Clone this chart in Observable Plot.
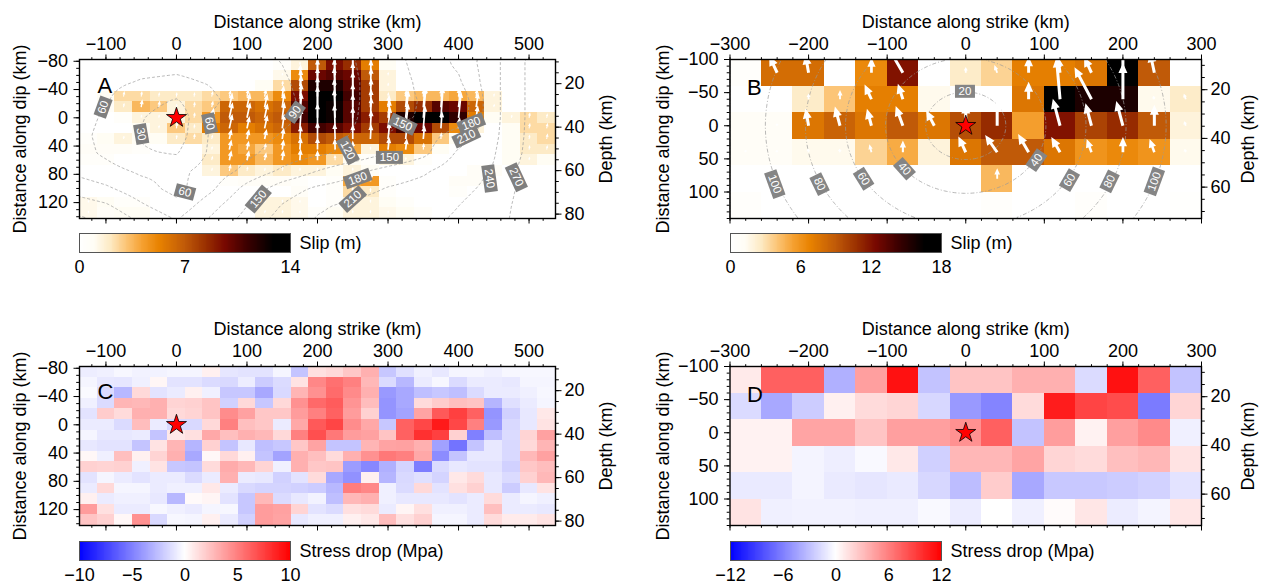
<!DOCTYPE html>
<html>
<head>
<meta charset="utf-8">
<script src="https://cdn.jsdelivr.net/npm/d3@7"></script>
<script src="https://cdn.jsdelivr.net/npm/@observablehq/plot@0.6"></script>
<style>
  html, body { margin: 0; padding: 0; background: #fff; }
  body { width: 1271px; height: 588px; position: relative; overflow: hidden; }
  .pane { position: absolute; }
  .pane svg { display: block; }
</style>
</head>
<body>
<div class="pane" id="panelA" style="left:0px;top:0px"></div>
<div class="pane" id="barA" style="left:60px;top:225px"></div>
<div class="pane" id="panelB" style="left:640px;top:0px"></div>
<div class="pane" id="barB" style="left:711px;top:225px"></div>
<div class="pane" id="panelC" style="left:0px;top:300px"></div>
<div class="pane" id="barC" style="left:60px;top:533px"></div>
<div class="pane" id="panelD" style="left:640px;top:300px"></div>
<div class="pane" id="barD" style="left:711px;top:533px"></div>
<script>
// ---------- fine model (panels A and C): 25 km x 15 km subfaults ----------
const strikeA = [-125, -100, -75, -50, -25, 0, 25, 50, 75, 100, 125, 150, 175, 200, 225, 250, 275, 300, 325, 350, 375, 400, 425, 450, 475, 500, 525];
const dipA = [-75, -60, -45, -30, -15, 0, 15, 30, 45, 60, 75, 90, 105, 120, 135];

// slip (m), one row per down-dip position
const slipA = [
  [0, 0, 0, 0, 0, 0, 0, 0, 0, 0, 0, 0.5, 1.5, 7, 9.5, 8.5, 5.5, 1, 0, 0, 0, 0, 0, 0, 0, 0, 0],
  [0, 0, 0, 0, 0, 0, 0, 0, 0, 0, 0, 1.2, 5, 10, 10.5, 10, 7, 1.5, 0, 0, 0, 0, 0, 0, 0, 0, 0],
  [0, 0, 0, 0, 0, 0, 0, 0, 0, 0, 1, 2.5, 7.5, 12, 12, 10.5, 8, 1.5, 0, 0, 0, 0, 0, 0, 0, 0, 0],
  [0, 1, 2.5, 2.5, 2, 2, 2, 2.5, 3, 3.5, 3.5, 5, 9.5, 13, 13, 11, 8, 2, 3, 3.5, 3.5, 4, 3.5, 1.5, 0, 0, 0],
  [0, 0.8, 2, 3.5, 3, 1.5, 2.5, 3, 6.5, 6.5, 6, 6.5, 10.5, 13.5, 12.5, 10.5, 8, 5.5, 7.5, 8.5, 10.5, 10, 6.5, 1.5, 0, 0, 0],
  [0, 0, 0.5, 1.5, 1.5, 1.5, 2.5, 4.5, 7, 7, 6.5, 7, 11, 14, 12.5, 10.5, 9, 8, 12, 13.5, 13.5, 11.5, 5.5, 1, 1.5, 2.5, 2],
  [0, 0, 0, 1, 1.5, 3, 2, 5.5, 6.5, 5.5, 6, 6.5, 9, 11, 10.5, 9.5, 8, 9.5, 11, 10, 7.5, 5, 1.5, 0, 1, 2.5, 2.5],
  [0.5, 1, 1.5, 1, 1, 2, 2.5, 2, 4.5, 4.5, 4.5, 5, 6, 7.5, 7, 6.5, 6.5, 7.5, 7.5, 6, 3, 1, 0, 0, 1, 2, 2.5],
  [0.8, 0.8, 0.8, 0.5, 0, 0, 0, 1.5, 4.5, 4, 3, 4.5, 5.5, 5.5, 5, 4, 1.5, 5.5, 5, 3, 1, 0, 0, 0, 1, 2, 2],
  [0.5, 0.5, 0, 0, 0, 0, 0, 2, 4.5, 4.5, 3.5, 4.5, 5, 4.5, 2.5, 1, 0.5, 1.5, 1.5, 0.5, 0, 0, 0, 0, 1, 1.5, 1],
  [0, 0, 0, 0, 0, 0, 0, 1.5, 3, 2, 1.5, 2, 1.5, 1.5, 1, 1.5, 1, 0, 0, 0, 0, 0, 0.8, 0.8, 0, 0, 0],
  [0, 0, 0, 0, 0, 0, 0, 0, 0.5, 0.8, 0.8, 0.8, 0.5, 0, 0.5, 4, 4.5, 0.5, 0, 0, 0, 0.8, 0.8, 0, 0, 0, 0],
  [0, 0, 0, 0, 0, 0, 0, 0, 0, 0, 0, 0, 0.8, 0, 0.5, 2.5, 2, 0.5, 0, 0, 0, 0.5, 0, 0, 0, 0, 0],
  [1.2, 1, 0.5, 0.5, 0, 0, 0, 0, 0, 0, 1.5, 1.5, 1.2, 0, 0.5, 1.5, 1.5, 1, 0.5, 0, 0, 0, 0, 0, 0, 0, 0],
  [1.2, 0.8, 1, 1, 0, 0, 0, 0, 0, 0, 1.5, 1.5, 1.2, 0.5, 1, 1.5, 1.5, 1.2, 1, 0.5, 0, 0, 0, 0, 0, 0, 0]
];

// rake of the slip vectors, degrees clockwise from up-dip, per strike column
const rakeA = [8, 8, 8, 8, 8, 6, 8, 12, 12, 12, 12, 8, 4, 0, -2, 0, 3, 6, 6, 5, 4, 6, 8, 10, 10, 10, 10];

// stress drop (MPa)
const stressC = [
  [-0.7, -0.6, -0.3, -0.5, -0.5, -0.4, -0.4, 0.6, -1, -1.1, -1.1, -0.4, -2.3, 1.2, 1.5, 2.2, 3.1, -2.2, -1.2, -0.6, -0.9, -0.4, -0.4, -0.6, -0.3, -0.3, -0.3],
  [-0.4, -0.9, -1, -0.6, 0.35, -1.1, -1.1, -1.4, -1.5, -0.7, -2, -1.4, 1.1, 4.7, 5.6, 5, 2.8, -1.4, -2.8, -0.8, -0.3, -1.4, -0.8, -0.8, -0.9, -0.4, -0.4],
  [-0.2, -1.4, -2.8, 1.5, -1.1, -0.8, 0.6, -0.6, -2.2, -2.2, -3.4, -1.5, 2.9, 4.3, 5.8, 4.6, 3.1, -4, -3.4, -2.5, -2.2, -2.5, -1.4, -0.8, -0.8, -0.6, -0.3],
  [-0.6, -1.4, 2.9, 2.8, 3.1, 1.7, 1.8, 2.3, -1.8, 1.5, -2.2, 1.5, 4.3, 5.9, 6.4, 4.2, 2.6, -4.2, -3.4, 1.4, 2, 2.5, 2.3, -2.9, -1.2, -0.8, -0.4],
  [-1.1, 2, 1.4, 3.1, 3.1, 1.5, 1.7, 2.3, 4.5, 3.7, 2.2, 2.2, 3.9, 5, 6.2, 3.9, 1.8, -4.2, -3.6, 3.6, 6.5, 7.5, 6.2, -4.2, -1.8, -0.9, 0.9],
  [-0.8, -0.8, -1.4, 2.6, -0.8, -1.5, -1.5, 1.5, 5, 2.5, 2.2, -0.8, 3.4, 6.5, 7.3, 4.5, 3.4, -2.2, 6.2, 7.2, 9, 7.2, 5, -4, -1.5, -0.9, 1.1],
  [-0.4, -0.9, -0.9, -0.8, -2.3, 0.9, 1.2, 3.4, 2.5, 3.1, 2.8, 1.5, 5, 6.9, 5.3, 3.9, 3.7, 2.3, 6.2, 8.1, 7.5, 1.8, -5, -2.5, -1.4, 1.7, 3.7],
  [-0.9, -1.1, -1.1, -2.3, 1.1, 2.9, -2.9, 1.8, -2.3, -0.9, -2.5, -2.2, 2.2, 3.6, -2.3, -2.3, 2.9, 3.6, 3.7, 3.1, -3.7, -5.5, -2.3, -0.9, -1.5, 1.5, 2.9],
  [0.3, -0.6, 2.5, 0.6, 1.7, 3.1, -3.4, 0.3, 1.5, 0.6, -2.3, -3.6, 3.1, 2.5, 1.4, 3.1, 4.3, 5.3, 5, 3.4, -4.5, -2.3, -0.9, -0.9, -1.5, 2.8, 3.7],
  [1.8, 1.7, 1.8, -0.6, 1.1, -2.2, -2.3, 1.4, 3.3, 2.8, 1.7, -0.6, 3.1, 2.2, 2.3, -3.9, -4.7, -3.1, -1.7, -5.1, -1.4, -0.9, -1.1, -1.1, -1.8, 2.2, 2.6],
  [-1.1, -0.4, -0.8, -1.1, -0.8, -0.8, -1.4, -0.8, 3.1, -0.8, -0.9, -1.8, -1.1, 1.4, -3.4, -4.3, 0.6, -2.9, -1.5, -1.2, -1.7, 0.9, 1.4, -0.9, -1.4, 1.8, 2.8],
  [-0.8, 1.5, -0.4, -0.4, -0.8, -0.6, -0.6, 0.9, -0.8, -1.5, -1.7, -1.7, -1.8, -2, -2.8, 5.1, 4.7, -0.6, -1.4, 1.5, -1.1, 1.2, 1.8, -0.9, -2, -0.9, 1.1],
  [0.6, -0.8, -0.6, -0.6, -0.9, -2.8, 0.2, 0.4, -1.1, -2.2, 2.8, -1.4, -0.9, -0.5, -2.5, 2.8, 3.1, -0.6, -0.9, -0.9, -0.9, -1.1, -0.8, 1.4, -0.8, -0.4, -0.6],
  [3.9, 1.2, -0.8, -0.8, -0.3, -0.6, -0.8, -0.4, -0.3, -2.2, 3.9, 3.7, 1.7, -1.1, -1.4, 1.2, 1.4, -0.8, 0.4, 1.2, -0.6, -0.6, -0.8, 2.5, -0.8, -0.8, -0.9],
  [2.3, 1.8, 0.3, 4.3, -1.5, -0.3, -0.4, 0.6, -0.8, -1.8, 3.9, 3.6, -0.9, -0.6, -0.6, 0.6, 0.9, 2.6, 1.2, 1.8, -0.4, -0.4, -0.8, 1.4, 0.8, 0.8, 1.1]
];

// rupture-time nodes (s) used for the contours of panel A
const timeStrikeA = [-150, -100, -50, 0, 50, 100, 150, 200, 250, 300, 350, 400, 450, 500, 550];
const timeDipA = [-100, -75, -50, -25, 0, 25, 50, 75, 100, 125, 150];
const ruptureTimeA = [
  [100, 82, 76, 74, 78, 84, 94, 106, 120, 140, 165, 190, 232, 275, 298],
  [92, 74, 68, 66, 70, 80, 90, 103, 118, 138, 160, 185, 232, 275, 298],
  [85, 66, 58, 55, 62, 76, 87, 100, 116, 136, 156, 175, 232, 275, 298],
  [78, 62, 42, 28, 56, 72, 85, 98, 115, 140, 152, 158, 232, 275, 298],
  [74, 56, 32, 12, 62, 74, 84, 98, 116, 145, 152, 160, 232, 275, 298],
  [72, 52, 28, 15, 65, 78, 92, 106, 122, 150, 165, 195, 234, 276, 298],
  [74, 55, 33, 28, 66, 84, 102, 114, 128, 150, 172, 215, 238, 278, 298],
  [85, 70, 55, 52, 72, 98, 125, 150, 172, 190, 205, 228, 242, 285, 300],
  [110, 95, 72, 50, 85, 130, 165, 185, 195, 212, 222, 234, 246, 285, 300],
  [140, 125, 95, 70, 110, 150, 182, 205, 218, 228, 230, 240, 252, 288, 300],
  [165, 150, 120, 95, 130, 165, 195, 215, 225, 235, 236, 244, 256, 290, 300]
];
const contourLevelsA = [30, 60, 90, 120, 150, 180, 210, 240, 270];
const contourLabelsA = [
  {t: 60, strike: -104, dip: -15, angle: -70},
  {t: 30, strike: -50, dip: 23, angle: 80},
  {t: 60, strike: 47, dip: 8, angle: 78},
  {t: 90, strike: 168, dip: -8, angle: -55},
  {t: 120, strike: 243, dip: 46, angle: 62},
  {t: 150, strike: 321, dip: 9, angle: 25},
  {t: 180, strike: 418, dip: 8, angle: -22},
  {t: 210, strike: 411, dip: 27, angle: -25},
  {t: 150, strike: 302, dip: 56, angle: 0},
  {t: 180, strike: 257, dip: 86, angle: -20},
  {t: 210, strike: 250, dip: 115, angle: -42},
  {t: 150, strike: 116, dip: 115, angle: -50},
  {t: 60, strike: 12, dip: 105, angle: 15},
  {t: 240, strike: 444, dip: 86, angle: 82},
  {t: 270, strike: 482, dip: 84, angle: 65}
];

// ---------- coarse model (panels B and D): 40 km x 40 km subfaults ----------
const strikeB = [-280, -240, -200, -160, -120, -80, -40, 0, 40, 80, 120, 160, 200, 240, 280];
const dipB = [-80, -40, 0, 40, 80, 120];
const slipB = [
  [0.5, 8, 8, 0, 6.5, 12, 0, 2.5, 3.5, 7, 7, 7.5, 17.5, 9, 0],
  [0, 0, 2.5, 4, 7, 7, 1.5, 0, 0, 7.5, 18, 15.5, 15.5, 1.5, 2.5],
  [1, 1, 7.5, 8.5, 7.5, 9, 7.5, 9.5, 11, 5.5, 12, 10, 11, 9, 2],
  [1, 1, 1.5, 1.5, 3.5, 5, 2, 7.5, 9, 9, 7.5, 6, 6.5, 6, 1.5],
  [0, 0, 0, 0, 0, 0, 0, 0, 4.5, 0, 0, 0, 0, 0, 0],
  [0.5, 0, 0, 0, 0, 0, 0, 0, 0.5, 0, 0, 0.5, 0, 0, 0.3]
];
const rakeB = [
  [null, -25, -10, null, 0, -30, null, 0, -20, 0, -8, -25, 0, -12, null],
  [null, null, 0, 0, -25, -18, null, null, null, 0, -5, -28, 0, -20, -20],
  [null, -10, -10, -15, -15, -20, -28, 0, 0, null, -15, -15, -15, 0, -20],
  [-10, -10, -10, -10, -15, 0, null, -25, -35, -30, -30, -20, 0, -20, -20],
  [null, null, null, null, null, null, null, null, 0, null, null, null, null, null, null],
  [null, null, null, null, null, null, null, null, null, null, null, null, null, null, null]
];
const stressD = [
  [1, 7.5, 7.5, -3.7, 4.5, 11.2, -2.8, 2.8, 2.8, 3.7, 3.7, -1.7, 11.2, 7.5, -2.8],
  [-1.7, -4.1, -2.4, 0.7, 1.7, 2, -1.9, -4.8, -5.8, 1.7, 10.7, 8.8, 8.4, -6.2, 2],
  [0.6, 0.6, 4.3, 4.3, 2.8, 4.5, 4.5, 5.2, 7.5, -2.8, 4.6, 0.6, 4.5, 5.5, -0.7],
  [0.6, 0.6, -0.5, -0.8, -0.3, 1.1, -2.2, 3.4, 3.4, 4.3, 2, 1.7, 3, 3.4, 1.3],
  [-1, -1, -0.5, -1, -1.2, -1, -1.9, -3.1, 2.4, -4.1, -2.6, -2.6, -2.4, -2.1, -1.3],
  [1.3, -0.7, -0.6, -0.6, -0.7, -0.7, -0.3, -0.9, 0, -0.7, 0.2, 1.2, -0.9, -0.5, 1.2]
];
const ruptureSpeedB = 2.55; // km/s, circular front from the hypocentre
const contourLevelsB = [20, 40, 60, 80, 100];
const contourLabelsB = [
  {t: 20, strike: -1, dip: -52, angle: 0},
  {t: 40, strike: -78, dip: 65, angle: 48},
  {t: 40, strike: 90, dip: 52, angle: -55},
  {t: 60, strike: -130, dip: 80, angle: 58},
  {t: 60, strike: 132, dip: 82, angle: -60},
  {t: 80, strike: -186, dip: 88, angle: 64},
  {t: 80, strike: 183, dip: 84, angle: -64},
  {t: 100, strike: -243, dip: 88, angle: 70},
  {t: 100, strike: 240, dip: 84, angle: -70}
];

const hypocenter = [{strike: 0, dip: 0}];

// ---------- shared styling ----------
const fontFamily = "'Liberation Sans', Arial, Helvetica, sans-serif";
const baseStyle = {fontFamily, fontSize: "18px", background: "transparent", color: "black", overflow: "visible", maxWidth: "none"};

const slipStops = [0, 0.07, 0.15, 0.22, 0.30, 0.38, 0.50, 0.60, 0.69, 0.80, 0.92, 1];
const slipColors = ["#ffffff", "#fffdf5", "#fde9c2", "#fcc679", "#f5a030", "#e88200", "#c05a08", "#9a3000", "#780800", "#3a0000", "#000000", "#000000"];
const slipColor = (max) => ({type: "linear", domain: slipStops.map((s) => s * max), range: slipColors, interpolate: "rgb", clamp: true});
const stressColor = (max) => ({type: "linear", domain: [-max, 0, max], range: ["#0000ff", "#ffffff", "#ff0000"], interpolate: "rgb", clamp: true});

function gridCells(xs, ys, values, dx, dy) {
  const out = [];
  ys.forEach((y, j) => xs.forEach((x, i) => out.push({
    x1: x - dx / 2, x2: x + dx / 2, y1: y - dy / 2, y2: y + dy / 2, v: values[j][i], x, y, i, j
  })));
  return out;
}

// filled slip-vector arrow pointing along the vector direction
function arrowShape(shaft, headW, headL) {
  return {
    draw(ctx, l) {
      const hl = Math.min(headL, l * 0.6);
      const k = hl / headL;
      const hw = headW * Math.max(k, 0.45);
      const sw = shaft * Math.max(k, 0.6);
      ctx.moveTo(-sw / 2, 0);
      ctx.lineTo(-sw / 2, -(l - hl));
      ctx.lineTo(-hw / 2, -(l - hl));
      ctx.lineTo(0, -l);
      ctx.lineTo(hw / 2, -(l - hl));
      ctx.lineTo(sw / 2, -(l - hl));
      ctx.lineTo(sw / 2, 0);
      ctx.closePath();
    }
  };
}
// label plate drawn along the text direction
const plateShape = {draw(ctx, l, r) { ctx.rect(-r, -l, 2 * r, l); }};

function contourLabelMarks(labels, fill) {
  const two = labels.filter((d) => d.t < 100), three = labels.filter((d) => d.t >= 100);
  const plate = (data, len) => Plot.vector(data, {
    x: "strike", y: "dip", rotate: (d) => d.angle + 90, length: len, r: 6.5,
    shape: plateShape, anchor: "middle", fill, stroke: "none"
  });
  return [
    plate(two, 20), plate(three, 27),
    Plot.text(labels, {x: "strike", y: "dip", text: (d) => String(d.t), rotate: "angle", fill: "white", fontSize: 11.5})
  ];
}

function faultPanel(cfg) {
  const toDip = (z) => (z - cfg.depth0) / cfg.sinDip;
  const blank = () => "";
  const t = cfg.ticks;
  return Plot.plot({
    width: cfg.width, height: cfg.height,
    marginTop: cfg.margin[0], marginRight: cfg.margin[1], marginBottom: cfg.margin[2], marginLeft: cfg.margin[3],
    style: baseStyle,
    x: {domain: cfg.xDomain},
    y: {domain: cfg.yDomain, reverse: true},
    color: cfg.color,
    length: cfg.lengthScale,
    marks: [
      Plot.rect(cfg.cells, {x1: "x1", x2: "x2", y1: "y1", y2: "y2", fill: "v", shapeRendering: "crispEdges"}),
      ...(cfg.overlay || []),
      Plot.dot(hypocenter, {x: "strike", y: "dip", symbol: "star", r: 6.3, fill: "#ff0000", stroke: "#000", strokeWidth: 0.8}),
      Plot.text([cfg.letter], {frameAnchor: "top-left", dx: cfg.letterPos[0], dy: cfg.letterPos[1], textAnchor: "start", fontSize: 22}),
      Plot.frame({stroke: "#000", strokeWidth: 1.4}),
      Plot.axisX({anchor: "top", ticks: t.xMajor, tickSize: 5.5, tickPadding: 4, label: null}),
      Plot.axisX({anchor: "top", ticks: t.xMinor, tickSize: 2.8, tickFormat: blank, label: null}),
      Plot.axisX({anchor: "bottom", ticks: t.xMajor, tickSize: 5.5, tickFormat: blank, label: null}),
      Plot.axisX({anchor: "bottom", ticks: t.xMinor, tickSize: 2.8, tickFormat: blank, label: null}),
      Plot.axisY({anchor: "left", ticks: t.yMajor, tickSize: 5.5, tickPadding: 6, label: null}),
      Plot.axisY({anchor: "left", ticks: t.yMinor, tickSize: 2.8, tickFormat: blank, label: null}),
      Plot.axisY({anchor: "right", ticks: t.depthMajor.map(toDip), tickSize: 5.5, tickPadding: 3.5,
        tickFormat: (d) => String(Math.round(cfg.depth0 + cfg.sinDip * d)), label: null}),
      Plot.axisY({anchor: "right", ticks: t.depthMinor.map(toDip), tickSize: 2.8, tickFormat: blank, label: null}),
      Plot.text(["Distance along strike (km)"], {frameAnchor: "top", dy: cfg.titleDy, textAnchor: "middle", fontSize: 18}),
      Plot.text(["Distance along dip (km)"], {frameAnchor: "left", dx: cfg.leftDx, rotate: -90, textAnchor: "middle", fontSize: 18}),
      Plot.text(["Depth (km)"], {frameAnchor: "right", dx: cfg.rightDx, rotate: -90, textAnchor: "middle", fontSize: 18})
    ]
  });
}

function colorBar(domain, ticks, color, title) {
  const step = (domain[1] - domain[0]) / 240;
  const bins = d3.range(240).map((k) => domain[0] + k * step);
  return Plot.plot({
    width: 420, height: 56, marginTop: 8, marginLeft: 19, marginRight: 420 - 19 - 211, marginBottom: 56 - 8 - 19,
    style: baseStyle,
    x: {domain}, y: {domain: [0, 1], axis: null}, color,
    marks: [
      Plot.rect(bins, {x1: (d) => d, x2: (d) => d + step, y1: 0, y2: 1, fill: (d) => d + step / 2, shapeRendering: "crispEdges"}),
      Plot.frame({stroke: "#555", strokeWidth: 1}),
      Plot.axisX({anchor: "bottom", ticks, tickSize: 0, tickPadding: 8, label: null}),
      Plot.text([title], {frameAnchor: "right", dx: 9, textAnchor: "start", fontSize: 18})
    ]
  });
}

// bilinear rupture time for the fine model
function ruptureTime(x, y) {
  const sx = timeStrikeA[1] - timeStrikeA[0], sy = timeDipA[1] - timeDipA[0];
  const fx = (x - timeStrikeA[0]) / sx, fy = (y - timeDipA[0]) / sy;
  const i = Math.max(0, Math.min(timeStrikeA.length - 2, Math.floor(fx)));
  const j = Math.max(0, Math.min(timeDipA.length - 2, Math.floor(fy)));
  const u = fx - i, v = fy - j, T = ruptureTimeA;
  return (1 - u) * (1 - v) * T[j][i] + u * (1 - v) * T[j][i + 1] + (1 - u) * v * T[j + 1][i] + u * v * T[j + 1][i + 1];
}

const ticksA = {
  xMajor: [-100, 0, 100, 200, 300, 400, 500], xMinor: d3.range(-120, 540, 20),
  yMajor: [-80, -40, 0, 40, 80, 120], yMinor: d3.range(-80, 143, 10),
  depthMajor: [20, 40, 60, 80], depthMinor: d3.range(10, 83, 5)
};
const ticksB = {
  xMajor: [-300, -200, -100, 0, 100, 200, 300], xMinor: d3.range(-300, 301, 20),
  yMajor: [-100, -50, 0, 50, 100], yMinor: d3.range(-100, 141, 10),
  depthMajor: [20, 40, 60], depthMinor: d3.range(10, 73, 5)
};
const geomA = {width: 640, xDomain: [-137.5, 537.5], yDomain: [-82.5, 142.5], depth0: 35.7, sinDip: 0.325, ticks: ticksA, titleDy: -44, leftDx: -59, rightDx: 51};
const geomB = {width: 631, xDomain: [-300, 300], yDomain: [-100, 140], depth0: 34.8, sinDip: 0.272, ticks: ticksB, titleDy: -44, leftDx: -67, rightDx: 47};

const cellsA = gridCells(strikeA, dipA, slipA, 25, 15);
const cellsC = gridCells(strikeA, dipA, stressC, 25, 15);
const cellsB = gridCells(strikeB, dipB, slipB, 40, 40);
const cellsD = gridCells(strikeB, dipB, stressD, 40, 40);

const arrowsA = cellsA.filter((d) => d.v >= 1.2).map((d) => ({strike: d.x, dip: d.y, slip: d.v, rake: rakeA[d.i]}));
const arrowsB = cellsB.filter((d) => rakeB[d.j][d.i] !== null && d.v > 0).map((d) => ({strike: d.x, dip: d.y, slip: d.v, rake: rakeB[d.j][d.i]}));

document.getElementById("panelA").append(faultPanel({
  ...geomA, height: 225, margin: [59, 85, 7, 79], cells: cellsA, color: slipColor(14),
  lengthScale: {type: "linear", domain: [0, 14], range: [0, 32]},
  letter: "A", letterPos: [18, 18],
  overlay: [
    Plot.contour({x1: -137.5, x2: 537.5, y1: -82.5, y2: 142.5, value: ruptureTime, thresholds: contourLevelsA,
      fill: "none", stroke: "#9a9a9a", strokeWidth: 0.7, strokeDasharray: "3,2"}),
    Plot.vector(arrowsA, {x: "strike", y: "dip", length: "slip", rotate: "rake", anchor: "start",
      shape: arrowShape(1.7, 5, 6), fill: "white", stroke: "none"}),
    ...contourLabelMarks(contourLabelsA, "#7f7f7f")
  ]
}));
document.getElementById("barA").append(colorBar([0, 14], [0, 7, 14], slipColor(14), "Slip (m)"));

document.getElementById("panelB").append(faultPanel({
  ...geomB, height: 225, margin: [59, 70, 7, 89.5], cells: cellsB, color: slipColor(18),
  lengthScale: {type: "linear", domain: [0, 18], range: [0, 42]},
  letter: "B", letterPos: [17, 20],
  overlay: [
    Plot.contour({x1: -300, x2: 300, y1: -100, y2: 140, value: (x, y) => Math.hypot(x, y) / ruptureSpeedB,
      thresholds: contourLevelsB, fill: "none", stroke: "#9a9a9a", strokeWidth: 0.7, strokeDasharray: "4,2,1,2"}),
    Plot.vector(arrowsB, {x: "strike", y: "dip", length: "slip", rotate: "rake", anchor: "start",
      shape: arrowShape(3, 9, 10), fill: "white", stroke: "none"}),
    ...contourLabelMarks(contourLabelsB, "#858585")
  ]
}));
document.getElementById("barB").append(colorBar([0, 18], [0, 6, 12, 18], slipColor(18), "Slip (m)"));

document.getElementById("panelC").append(faultPanel({
  ...geomA, height: 232, margin: [66, 85, 7, 79], cells: cellsC, color: stressColor(10),
  letter: "C", letterPos: [18, 17]
}));
document.getElementById("barC").append(colorBar([-10, 10], [-10, -5, 0, 5, 10], stressColor(10), "Stress drop (Mpa)"));

document.getElementById("panelD").append(faultPanel({
  ...geomB, height: 232, margin: [66, 70, 7, 89.5], cells: cellsD, color: stressColor(12),
  letter: "D", letterPos: [17, 20]
}));
document.getElementById("barD").append(colorBar([-12, 12], [-12, -6, 0, 6, 12], stressColor(12), "Stress drop (Mpa)"));
</script>
</body>
</html>
